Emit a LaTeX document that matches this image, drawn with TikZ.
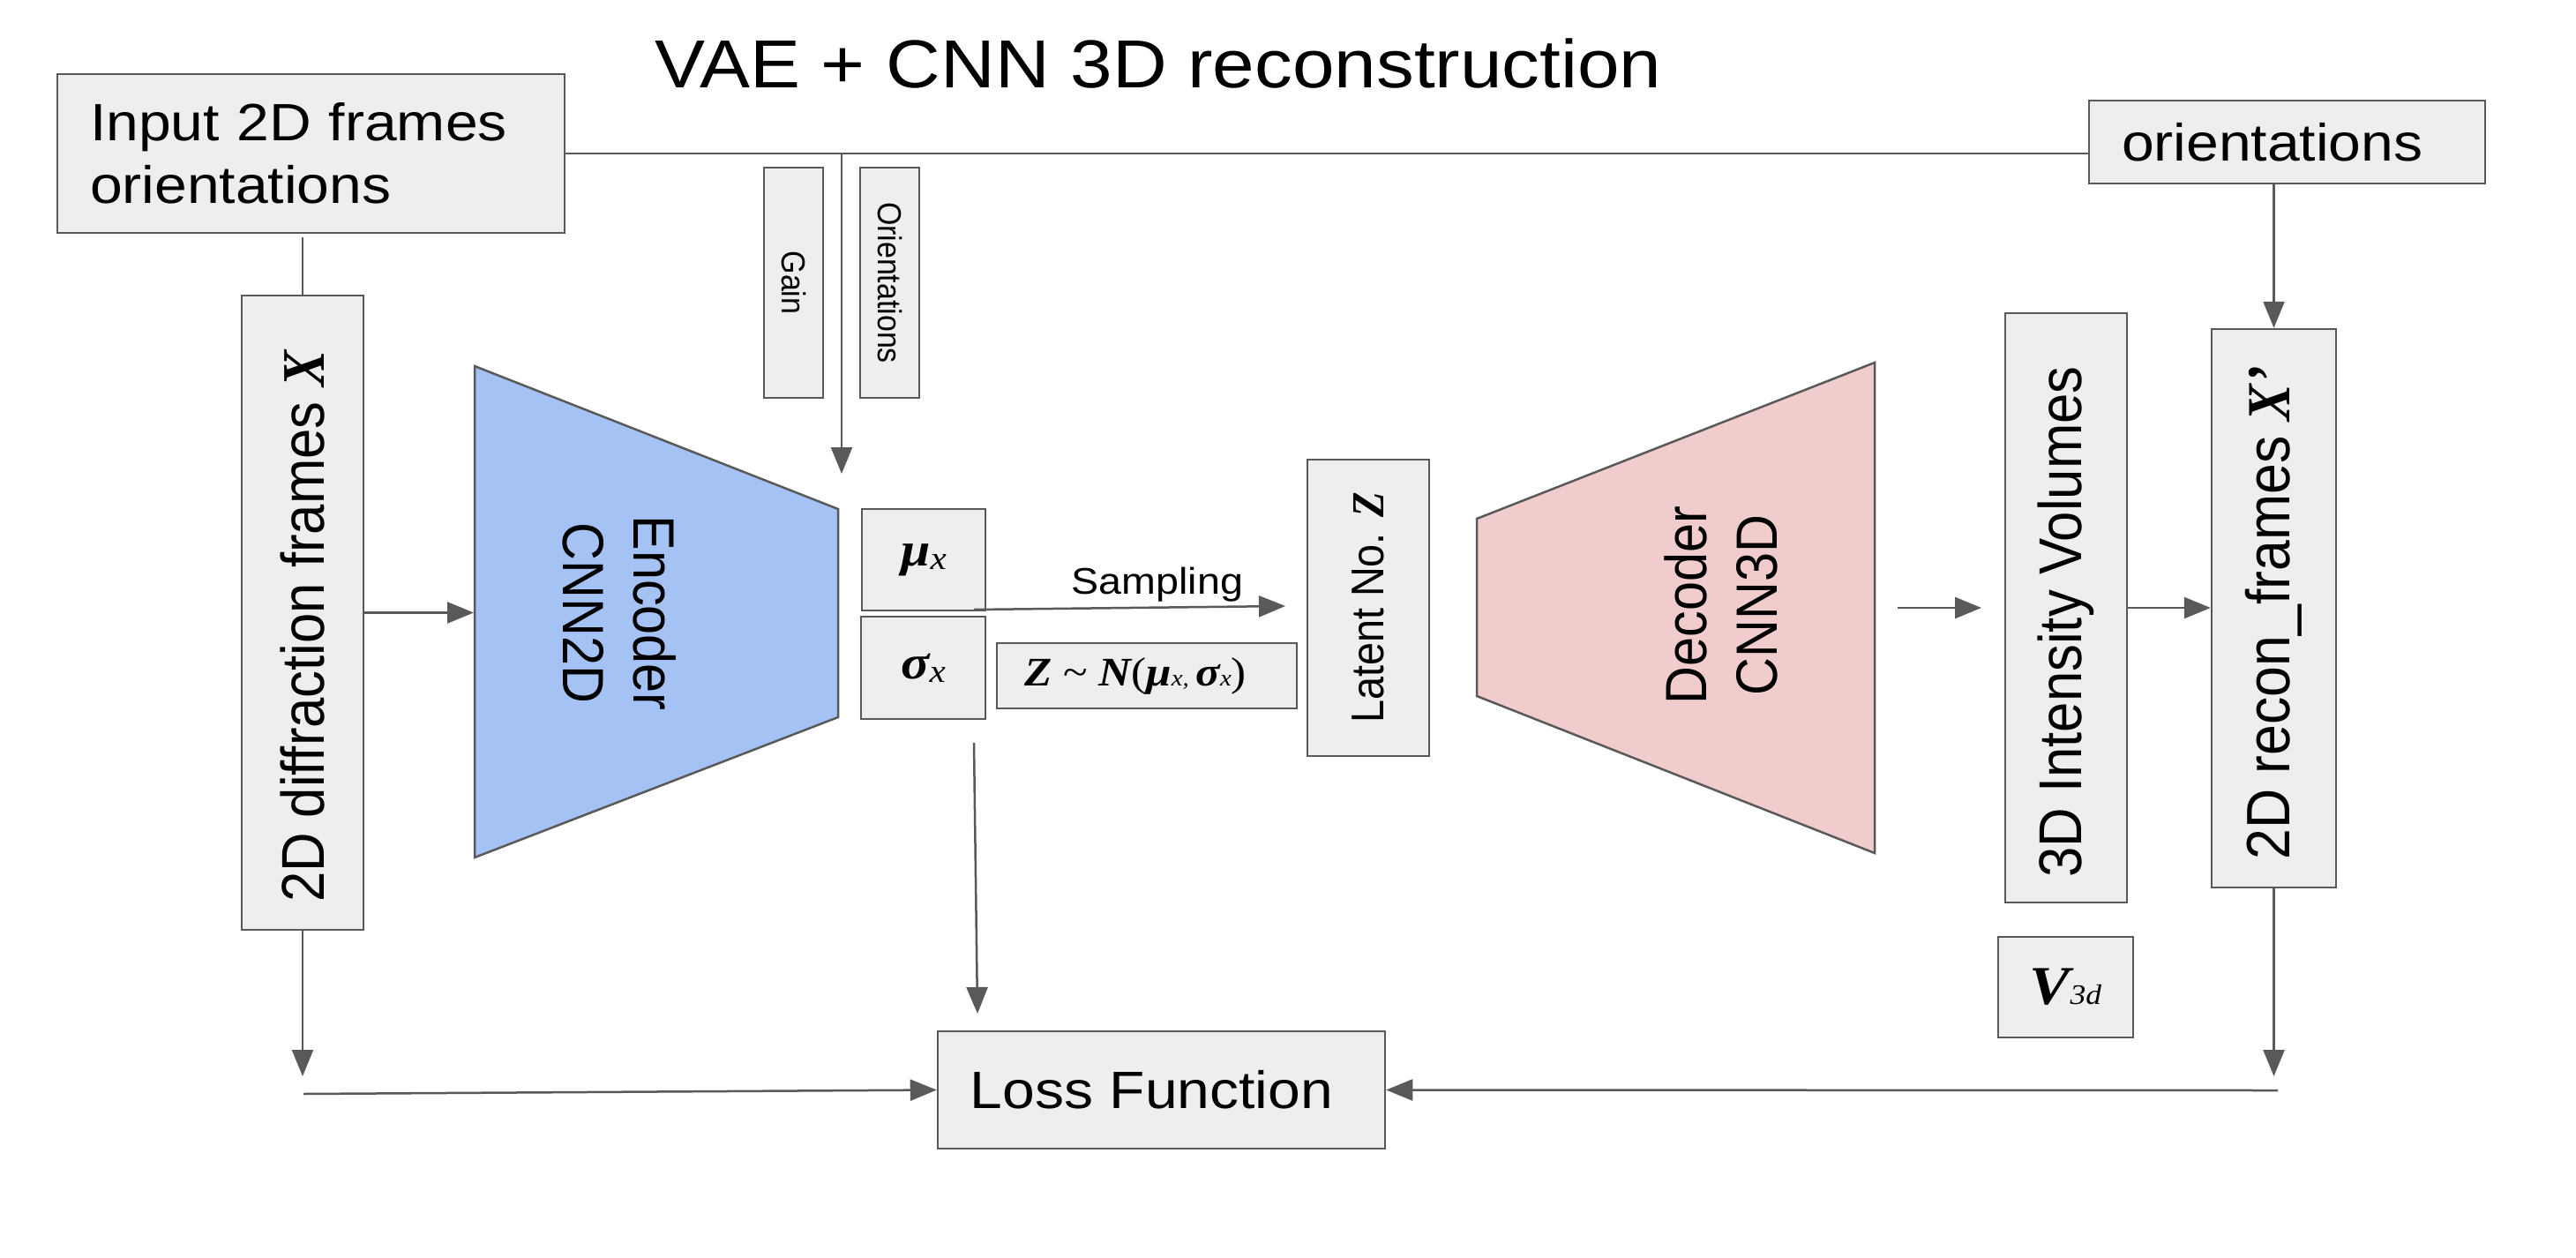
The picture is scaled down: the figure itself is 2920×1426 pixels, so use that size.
\documentclass[tikz,border=0pt]{standalone}
\usepackage{fontspec}
\setmainfont{Liberation Sans}
\newfontfamily\HFont[FakeStretch=1.11]{Liberation Sans}
\newfontfamily\VFont[FakeStretch=0.9]{Liberation Sans}
\newfontfamily\HSerif[FakeStretch=1.11]{Liberation Serif}
\newfontfamily\VSerif[FakeStretch=0.9]{Liberation Serif}
\newcommand\myfs[2]{\fontsize{#1}{#2}\selectfont}
\usetikzlibrary{arrows.meta}
\definecolor{bordc}{HTML}{595959}
\definecolor{boxc}{HTML}{EEEEEE}
\definecolor{encc}{HTML}{A4C2F4}
\definecolor{decc}{HTML}{F0CDCC}
\begin{document}
\begin{tikzpicture}[x=1pt,y=-1pt,
  box/.style={draw=bordc, fill=boxc, line width=2.5pt, inner sep=0pt, anchor=center},
  line/.style={draw=bordc, line width=2.5pt},
  arr/.style={line, -{Triangle[length=30pt,width=24pt]}},
  htext/.style={font={\HFont\myfs{59.5}{71}}},
  vtext/.style={font={\VFont\myfs{66}{80}}},
  vtextb/.style={font={\VFont\myfs{68.5}{80}}}]
\fill[white] (0,0) rectangle (2920,1426);
\useasboundingbox (0,0) rectangle (2920,1426);

% title
\node[font={\HFont\myfs{77}{92}}, anchor=base, inner sep=0pt] (title) at (1313,100) {VAE + CNN 3D reconstruction};

% boxes
\node[box, htext, text width=501pt, inner xsep=37pt, minimum height=180pt, align=left] (input) at (352.5,174) {Input 2D frames\\orientations};
\node[box, htext, text width=375pt, inner xsep=37pt, minimum height=94pt, align=left] (orient) at (2592.5,161) {orientations};
\node[box, font={\VFont\myfs{37.7}{45}}, minimum width=67pt, minimum height=261pt] (gain) at (899.5,320.5) {\rotatebox{-90}{Gain}};
\node[box, font={\VFont\myfs{37.7}{45}}, minimum width=67pt, minimum height=261pt] (orbox) at (1008.5,320.5) {\rotatebox{-90}{Orientations}};
\node[box, vtextb, minimum width=138pt, minimum height=719pt] (diff) at (343,694.5) {\rotatebox{90}{2D diffraction frames {\VSerif\bfseries\itshape X}\hspace{31pt}}};

% encoder
\draw[line, fill=encc] (538,415) -- (950,577) -- (950,813) -- (538,972) -- cycle;
\node[vtext, inner sep=0pt] (enc) at (694,695) {\rotatebox{-90}{\begin{tabular}{@{}c@{}}Encoder\\CNN2D\end{tabular}}};

% decoder
\draw[line, fill=decc] (1674,588) -- (2125,411) -- (2125,967) -- (1674,789) -- cycle;
\node[vtext, inner sep=0pt] (dec) at (1958.5,686) {\rotatebox{90}{\begin{tabular}{@{}c@{}}Decoder\\CNN3D\end{tabular}}};

% latent
\node[box, minimum width=140pt, minimum height=115pt] (mu) at (1047,634.5) {{\HSerif\bfseries\itshape\myfs{54}{60}μ}{\HSerif\itshape\myfs{37}{40}\raisebox{-4pt}{x}}};
\node[box, minimum width=141pt, minimum height=116pt] (sigma) at (1046.5,757) {{\HSerif\bfseries\itshape\myfs{54}{60}σ}{\HSerif\itshape\myfs{37}{40}\raisebox{-4pt}{x}}};
\node[box, minimum width=340pt, minimum height=74pt] (zn) at (1300,766) {\HSerif\myfs{46}{52}{\bfseries\itshape Z} \textasciitilde{} {\bfseries\itshape N}({\bfseries\itshape μ}{\myfs{26}{30}\itshape x,}\,{\bfseries\itshape σ}{\myfs{26}{30}\itshape x})\rule{26pt}{0pt}};
\node[box, font={\VFont\myfs{52}{60}}, minimum width=138pt, minimum height=336pt] (latent) at (1551,689) {\rotatebox{90}{Latent No. {\VSerif\bfseries\itshape Z}}};

% right side
\node[box, vtextb, minimum width=138pt, minimum height=668pt] (int3d) at (2342,689) {\rotatebox{90}{3D Intensity Volumes\hspace{32pt}}};
\node[box, font={\VFont\myfs{69.5}{80}}, minimum width=141pt, minimum height=633pt] (recon) at (2577.5,689.5) {\rotatebox{90}{2D recon\_frames {\VSerif\bfseries\itshape X’}\hspace{10pt}}};
\node[box, minimum width=153pt, minimum height=114pt] (v3d) at (2341.5,1119) {{\HSerif\bfseries\itshape\myfs{62}{70}V}{\HSerif\itshape\myfs{32}{36}3d}};

% loss
\node[box, htext, minimum width=507pt, minimum height=133pt] (loss) at (1316.5,1235.5) {Loss Function\rule{22pt}{0pt}};

% connectors
\coordinate (inb) at (343,269);
\draw[line] (inb) -- (diff.north);
\draw[line] (input.east) -- (input.east -| orient.west);
\coordinate (j1) at (954,174);
\coordinate (encin) at (954,537);
\draw[arr] (j1) -- (encin);
\coordinate (encL) at (537,694.5);
\draw[arr] (diff.east) -- (encL);
\coordinate (samp0) at (1104,691);
\coordinate (samp1) at (1457,687);
\draw[arr] (samp0) -- (samp1);
\node[font={\HFont\myfs{42}{50}}, inner sep=0pt, anchor=base] (samplbl) at (1312,673) {Sampling};
\coordinate (sg0) at (1104,842);
\coordinate (sg1) at (1108,1149);
\draw[arr] (sg0) -- (sg1);
\coordinate (d1) at (343,1220);
\draw[arr] (diff.south) -- (d1);
\coordinate (l0) at (344,1240);
\draw[arr] (l0) -- (loss.west);
\coordinate (r1) at (2577.5,1220);
\draw[arr] (recon.south) -- (r1);
\coordinate (r0) at (2582,1236);
\draw[arr] (r0) -- (loss.east);
\draw[arr] (recon.north |- orient.south) -- (recon.north);
\coordinate (dc0) at (2151,689);
\coordinate (dc1) at (2246,689);
\draw[arr] (dc0) -- (dc1);
\draw[arr] (int3d.east) -- (recon.west |- int3d.east);
\end{tikzpicture}
\end{document}
